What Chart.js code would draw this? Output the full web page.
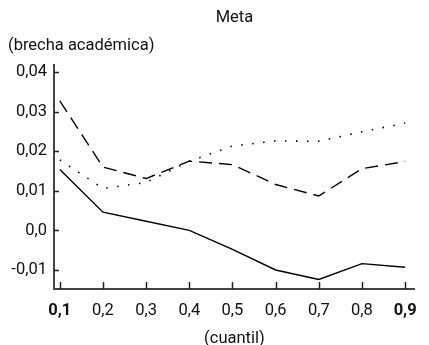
<!DOCTYPE html>
<html>
<head>
<meta charset="utf-8">
<script src="https://cdn.jsdelivr.net/npm/chart.js@4.4.1/dist/chart.umd.min.js"></script>
<style>
  html, body { margin: 0; padding: 0; background: #fff; }
  #wrap { width: 429px; height: 345px; }
</style>
</head>
<body>
<div id="wrap"><canvas id="metaChart"></canvas></div>
<script>
const quantiles = [0.1, 0.2, 0.3, 0.4, 0.5, 0.6, 0.7, 0.8, 0.9];
const xTickLabels = ["0,1", "0,2", "0,3", "0,4", "0,5", "0,6", "0,7", "0,8", "0,9"];

// three series of the gap by quantile
const solidSeries  = [0.0154, 0.0046, 0.0023, 0.0000, -0.0048, -0.0100, -0.0124, -0.0084, -0.0093];
const dashedSeries = [0.0327, 0.0160, 0.0131, 0.0175, 0.0166, 0.0116, 0.0087, 0.0156, 0.0174];
const dottedSeries = [0.0178, 0.0106, 0.0121, 0.0175, 0.0213, 0.0226, 0.0225, 0.0249, 0.0271];

const yTicks = [-0.01, 0, 0.01, 0.02, 0.03, 0.04];
const yTickLabels = ["-0,01", "0,0", "0,01", "0,02", "0,03", "0,04"];

const FONT = "Roboto, 'Liberation Sans', sans-serif";
const FONT_SIZE = 16.5;
const INK = "#111";

const toPoints = (ys) => quantiles.map((q, i) => ({ x: q, y: ys[i] }));

// short tick marks pointing into the plot, plus the y caption
const axisDecor = {
    id: "axisDecor",
    afterDraw(chart) {
        const { ctx, chartArea, scales } = chart;
        ctx.save();
        ctx.strokeStyle = "#222";
        ctx.lineWidth = 1.5;
        ctx.beginPath();
        quantiles.forEach(q => {
            const x = Math.round(scales.x.getPixelForValue(q)) + 0.5;
            ctx.moveTo(x, chartArea.bottom);
            ctx.lineTo(x, chartArea.bottom - 7);
        });
        yTicks.forEach(v => {
            const y = Math.round(scales.y.getPixelForValue(v)) + 0.5;
            ctx.moveTo(chartArea.left, y);
            ctx.lineTo(chartArea.left + 5, y);
        });
        ctx.stroke();

        ctx.fillStyle = INK;
        ctx.font = FONT_SIZE + "px " + FONT;
        ctx.textAlign = "left";
        ctx.textBaseline = "middle";
        ctx.fillText("(brecha académica)", 8, 46);
        ctx.restore();
    }
};

new Chart(document.getElementById("metaChart"), {
    type: "line",
    data: {
        datasets: [
            {
                data: toPoints(solidSeries),
                borderColor: "#000",
                borderWidth: 1.4
            },
            {
                data: toPoints(dashedSeries),
                borderColor: "#000",
                borderWidth: 1.4,
                borderDash: [13, 7]
            },
            {
                data: toPoints(dottedSeries),
                borderColor: "#000",
                borderWidth: 1.6,
                borderDash: [1.5, 9.5]
            }
        ]
    },
    options: {
        responsive: true,
        maintainAspectRatio: false,
        animation: false,
        layout: { padding: { left: 0, right: 4, top: 0, bottom: 0 } },
        elements: {
            point: { radius: 0, hoverRadius: 0 },
            line: { tension: 0 }
        },
        plugins: {
            legend: { display: false },
            tooltip: { enabled: false },
            title: {
                display: true,
                text: "Meta",
                fullSize: false,
                color: INK,
                font: { family: FONT, size: FONT_SIZE, weight: "normal", lineHeight: 1.2 },
                padding: { top: 8, bottom: 37.2 }
            }
        },
        scales: {
            x: {
                type: "linear",
                min: 0.0865,
                max: 0.9225,
                afterBuildTicks: (scale) => {
                    scale.ticks = quantiles.map(v => ({ value: v }));
                },
                afterFit: (scale) => { scale.height = 56; },
                grid: { display: false, drawTicks: false },
                border: { display: true, color: "#444", width: 2 },
                ticks: {
                    padding: 12,
                    color: INK,
                    maxRotation: 0,
                    autoSkip: false,
                    font: (c) => ({
                        family: FONT,
                        size: FONT_SIZE,
                        weight: (c.index === 0 || c.index === quantiles.length - 1) ? "bold" : "normal"
                    }),
                    callback: (v, i) => xTickLabels[i]
                },
                title: {
                    display: true,
                    text: "(cuantil)",
                    color: INK,
                    font: { family: FONT, size: FONT_SIZE, lineHeight: 0.8 },
                    padding: { top: 0, bottom: 0 }
                }
            },
            y: {
                min: -0.0148,
                max: 0.04177,
                afterBuildTicks: (scale) => {
                    scale.ticks = yTicks.map(v => ({ value: v }));
                },
                afterFit: (scale) => { scale.width = 54; },
                grid: { display: false, drawTicks: false },
                border: { display: true, color: "#444", width: 2 },
                ticks: {
                    padding: 7,
                    color: INK,
                    font: { family: FONT, size: FONT_SIZE },
                    callback: (v, i) => yTickLabels[i]
                }
            }
        }
    },
    plugins: [axisDecor]
});
</script>
</body>
</html>
